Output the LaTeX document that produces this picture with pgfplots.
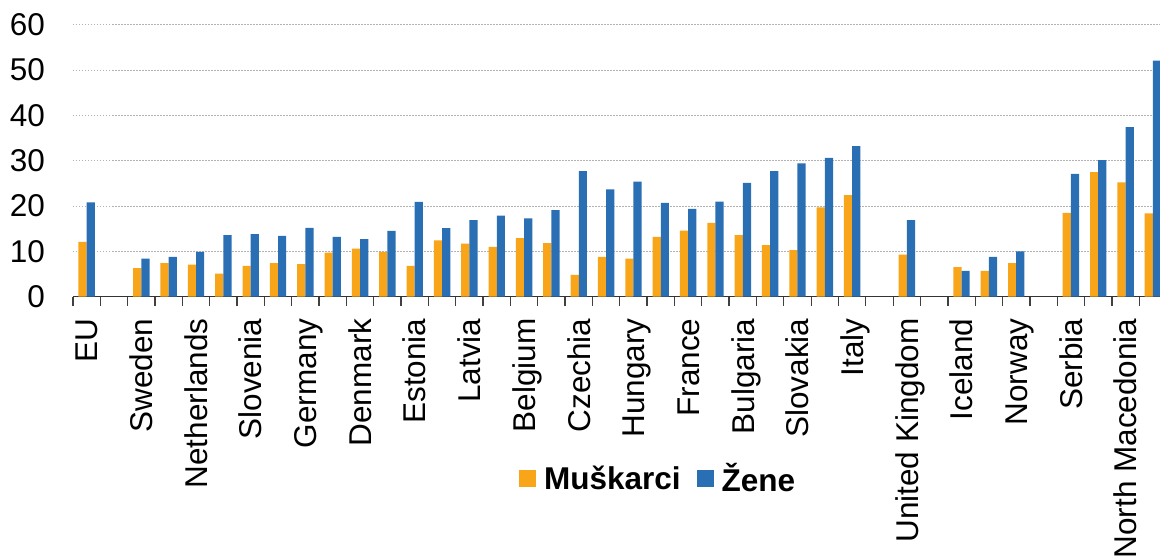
\documentclass[border=0pt]{standalone}
\usepackage{pgfplots}
\pgfplotsset{compat=1.18}
\usepackage{fontspec}
\setmainfont{Liberation Sans}
\definecolor{mus}{RGB}{249,165,26}
\definecolor{zen}{RGB}{42,110,180}
\begin{document}
\begin{tikzpicture}
\useasboundingbox (0,0) rectangle (1160pt,555pt);
\begin{axis}[
 at={(73pt,258.3pt)}, anchor=south west,
 scale only axis, width=1093.6pt, height=272pt,
 xmin=-0.5, xmax=39.5, ymin=0, ymax=60,
 ytick={0,10,...,60},
 xtick={0,2,...,38},
 xticklabels={EU,Sweden,Netherlands,Slovenia,Germany,Denmark,Estonia,Latvia,Belgium,Czechia,Hungary,France,Bulgaria,Slovakia,Italy,United Kingdom,Iceland,Norway,Serbia,North Macedonia},
 minor xtick={-0.5,0.5,...,38.5},
 axis x line=bottom, axis y line=left,
 y axis line style={draw=none},
 x axis line style={-, line width=1.5pt, color=black!80},
 tick align=outside,
 major tick length=0pt,
 minor tick length=9.5pt,
 minor tick style={line width=1.3pt, black!75},
 ymajorgrids,
 major grid style={line width=1pt, black!30, dash pattern=on 1.5pt off 1.5pt},
 tick label style={font=\fontsize{31.5}{36}\selectfont},
 /pgf/number format/assume math mode=true,
 yticklabel style={anchor=east, inner sep=0pt, xshift=-28pt},
 xticklabel style={yshift=-21.6pt, rotate=90, anchor=east, inner sep=0pt, text height=22.5pt, text depth=0pt},
 legend style={at={(0.535,-0.667)}, anchor=center, draw=none, fill=none,
   font=\bfseries\fontsize{31.5}{36}\selectfont, legend columns=2,
   /tikz/every even column/.append style={column sep=14pt}},
 legend image code/.code={\fill[#1] (0pt,-8.5pt) rectangle (17pt,8.5pt); \path (23pt,0pt);},
]
\addplot[ybar, bar width=8.2pt, bar shift=-4.1pt, fill=mus, draw=none] coordinates {
(0,12.1)(2,6.3)(3,7.4)(4,7.1)(5,5.1)(6,6.8)(7,7.4)(8,7.2)(9,9.7)(10,10.6)(11,9.9)(12,6.8)(13,12.4)(14,11.7)(15,11.0)(16,12.9)(17,11.8)(18,4.8)(19,8.8)(20,8.4)(21,13.2)(22,14.6)(23,16.3)(24,13.6)(25,11.4)(26,10.3)(27,19.7)(28,22.4)(30,9.3)(32,6.5)(33,5.7)(34,7.4)(36,18.5)(37,27.5)(38,25.2)(39,18.4)};
\addlegendentry{Muškarci}
\addplot[ybar, bar width=8.2pt, bar shift=4.1pt, fill=zen, draw=none] coordinates {
(0,20.8)(2,8.4)(3,8.8)(4,9.9)(5,13.6)(6,13.8)(7,13.4)(8,15.2)(9,13.2)(10,12.7)(11,14.5)(12,20.9)(13,15.1)(14,16.9)(15,17.9)(16,17.3)(17,19.1)(18,27.7)(19,23.7)(20,25.4)(21,20.7)(22,19.4)(23,21.0)(24,25.1)(25,27.7)(26,29.4)(27,30.6)(28,33.2)(30,16.9)(32,5.7)(33,8.8)(34,10.0)(36,27.1)(37,30.1)(38,37.4)(39,52.1)};
\addlegendentry{Žene}
\end{axis}
\end{tikzpicture}
\end{document}
